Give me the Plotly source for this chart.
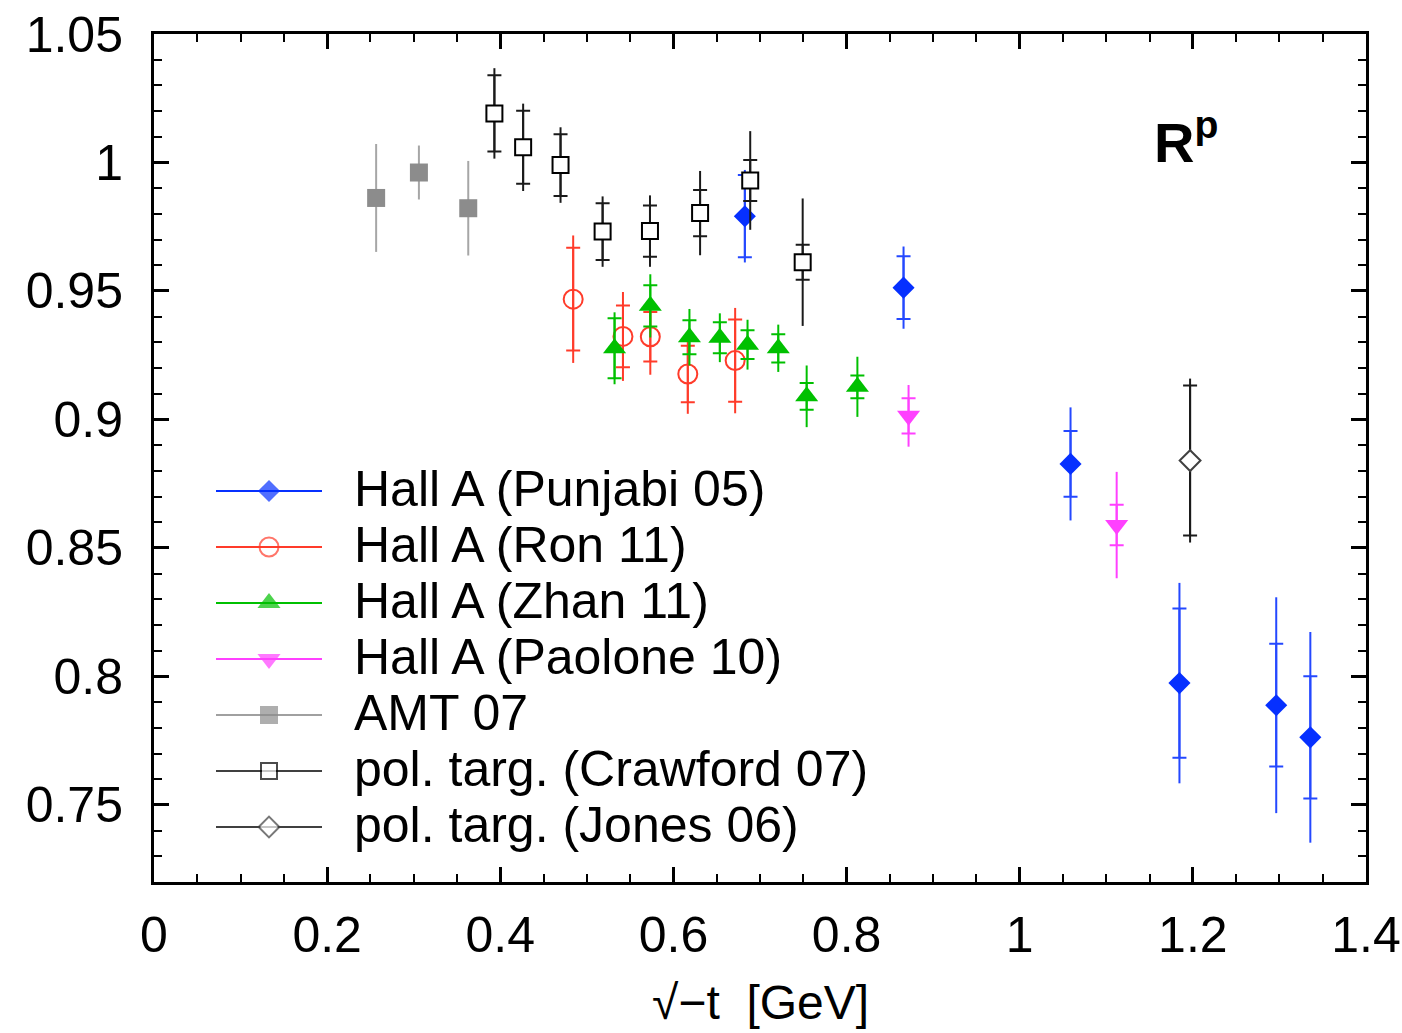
import plotly.graph_objects as go

# ---------------------------------------------------------------------------
# Proton ratio R^p versus sqrt(-t): values, statistical (capped) and total
# (uncapped) uncertainties for every data set
# ---------------------------------------------------------------------------
punjabi_x = [0.6825, 0.8658, 1.0587, 1.1845, 1.2963, 1.3357]
punjabi_y = [0.9791, 0.9513, 0.8827, 0.7974, 0.7888, 0.7763]
punjabi_stat = [0.016, 0.0122, 0.0128, 0.029, 0.0239, 0.0238]
punjabi_tot = [0.018, 0.016, 0.022, 0.039, 0.042, 0.041]

ron_x = [0.4842, 0.5417, 0.5733, 0.6166, 0.6713]
ron_y = [0.9468, 0.9323, 0.9322, 0.9177, 0.9229]
ron_stat = [0.020, 0.012, 0.0096, 0.011, 0.016]
ron_tot = [0.0248, 0.0173, 0.0148, 0.0155, 0.0205]

zhan_x = [0.532, 0.5733, 0.6185, 0.6536, 0.6856, 0.7211, 0.7539, 0.8125]
zhan_y = [0.9277, 0.9442, 0.932, 0.9318, 0.9291, 0.9277, 0.909, 0.9127]
zhan_stat = [0.0117, 0.008, 0.0066, 0.006, 0.0056, 0.0055, 0.0052, 0.0044]
zhan_tot = [0.014, 0.0123, 0.011, 0.0095, 0.0097, 0.0092, 0.012, 0.0117]

paolone_x = [0.8716, 1.112]
paolone_y = [0.9014, 0.8589]
paolone_stat = [0.0069, 0.0079]
paolone_tot = [0.012, 0.0207]

amt_x = [0.2566, 0.306, 0.363]
amt_y = [0.9862, 0.9961, 0.9822]
amt_tot = [0.021, 0.0105, 0.0184]

crawford_x = [0.3932, 0.4264, 0.4696, 0.5182, 0.5729, 0.6308, 0.6887, 0.7493]
crawford_y = [1.0191, 1.0059, 0.999, 0.9731, 0.9733, 0.9803, 0.993, 0.9612]
crawford_stat = [0.0148, 0.0142, 0.012, 0.011, 0.010, 0.009, 0.008, 0.0068]
crawford_tot = [0.0176, 0.017, 0.0147, 0.0137, 0.0139, 0.0164, 0.0192, 0.0248]

jones_x = [1.1968]
jones_y = [0.884]
jones_stat = [0.0292]
jones_tot = [0.0319]

legend_labels = [
    "Hall A (Punjabi 05)",
    "Hall A (Ron 11)",
    "Hall A (Zhan 11)",
    "Hall A (Paolone 10)",
    "AMT 07",
    "pol. targ. (Crawford 07)",
    "pol. targ. (Jones 06)",
]

x_ticks = [0, 0.2, 0.4, 0.6, 0.8, 1.0, 1.2, 1.4]
x_tick_text = ["0", "0.2", "0.4", "0.6", "0.8", "1", "1.2", "1.4"]
y_ticks = [0.75, 0.8, 0.85, 0.9, 0.95, 1.0, 1.05]
y_tick_text = ["0.75", "0.8", "0.85", "0.9", "0.95", "1", "1.05"]

FONT = "Liberation Sans, Arial, Helvetica, sans-serif"
TXT = 50

# frame geometry (pixels)
L, R, T, B = 154, 36, 34, 151
W, H = 1402, 1033
PW, PH = W - L - R, H - T - B

# style of each data set: (marker colour, bar colour, symbol, size, fill, outline width)
styles = [
    ("#0630ff", "#2448ff", "diamond", 17, "#0630ff", 0),
    ("#ff3b2a", "#ff3b2a", "circle-open", 19, "#ff3b2a", 2),
    ("#00c000", "#00c000", "triangle-up", 20, "#00c000", 0),
    ("#ff40ff", "#ff40ff", "triangle-down", 20, "#ff40ff", 0),
    ("#8c8c8c", "#a6a6a6", "square", 18, "#8c8c8c", 0),
    ("#000000", "#1a1a1a", "square", 16, "#ffffff", 2),
    ("#404040", "#1a1a1a", "diamond", 16, "#ffffff", 2),
]

fig = go.Figure()


def add_set(x, y, stat, tot, style):
    mcol, bcol, sym, size, fill, lw = style
    # total uncertainty: plain bar
    fig.add_trace(go.Scatter(
        x=x, y=y, mode="markers",
        marker=dict(size=1, color="rgba(0,0,0,0)"),
        error_y=dict(type="data", array=tot, color=bcol, thickness=2, width=0),
        showlegend=False, hoverinfo="skip"))
    # statistical uncertainty with caps, plus the symbol
    err = dict(type="data", array=stat, color=bcol, thickness=2, width=7) if stat else None
    fig.add_trace(go.Scatter(
        x=x, y=y, mode="markers",
        marker=dict(symbol=sym, size=size, color=fill,
                    line=dict(color=mcol, width=lw)),
        error_y=err, showlegend=False))


add_set(amt_x, amt_y, None, amt_tot, styles[4])
add_set(ron_x, ron_y, ron_stat, ron_tot, styles[1])
add_set(zhan_x, zhan_y, zhan_stat, zhan_tot, styles[2])
add_set(punjabi_x, punjabi_y, punjabi_stat, punjabi_tot, styles[0])
add_set(crawford_x, crawford_y, crawford_stat, crawford_tot, styles[5])
add_set(paolone_x, paolone_y, paolone_stat, paolone_tot, styles[3])
add_set(jones_x, jones_y, jones_stat, jones_tot, styles[6])

# key drawn on a pixel-space overlay
key_x0, key_xm, key_x1, key_text_x = 216, 269, 322, 352
key_row0, key_step = 491, 56
for i, (label, st) in enumerate(zip(legend_labels, styles)):
    mcol, bcol, sym, size, fill, lw = st
    ry = key_row0 + i * key_step
    line_col = "#404040" if i >= 5 else ("#a0a0a0" if i == 4 else mcol)
    fig.add_trace(go.Scatter(
        x=[key_x0, key_xm, key_x1], y=[ry, ry, ry], mode="lines+markers",
        xaxis="x2", yaxis="y2",
        line=dict(color=line_col, width=2),
        marker=dict(symbol=sym, size=[0, size, 0], color=fill,
                    line=dict(color=mcol, width=lw)),
        showlegend=False, hoverinfo="skip"))
    fig.add_annotation(x=key_text_x, y=ry - 2, xref="x2", yref="y2", text=label,
                       showarrow=False, xanchor="left", yanchor="middle",
                       font=dict(family=FONT, size=TXT, color="black"))

fig.add_annotation(x=1152, y=138, xref="x2", yref="y2",
                   text="<b>R<sup>p</sup></b>", showarrow=False,
                   xanchor="left", yanchor="middle",
                   font=dict(family=FONT, size=56, color="black"))

# x-axis title, placed below the tick labels
fig.add_annotation(x=(760 - L) / PW, y=-(1002 - (H - B)) / PH,
                   xref="paper", yref="paper",
                   text="\u221a\u2212t\u00a0\u00a0[GeV]", showarrow=False,
                   xanchor="center", yanchor="middle",
                   font=dict(family=FONT, size=48, color="black"))

axis_common = dict(
    showline=True, linecolor="black", linewidth=3, mirror="ticks",
    ticks="inside", tickcolor="black", tickwidth=3, ticklen=15,
    showgrid=False, zeroline=False, automargin=False,
    tickfont=dict(family=FONT, size=TXT, color="black"),
)

fig.update_layout(
    width=W, height=H,
    margin=dict(l=L, r=R, t=T, b=B),
    plot_bgcolor="white", paper_bgcolor="white",
    showlegend=False,
    xaxis=dict(range=[0, 1.4], tickvals=x_ticks, ticktext=x_tick_text,
               minor=dict(dtick=0.05, tick0=0, ticks="inside", ticklen=8,
                          tickwidth=2, tickcolor="black"),
               ticklabelstandoff=7,
               **axis_common),
    yaxis=dict(range=[0.72, 1.05], tickvals=y_ticks, ticktext=y_tick_text,
               minor=dict(dtick=0.01, tick0=0.72, ticks="inside", ticklen=8,
                          tickwidth=2, tickcolor="black"),
               ticklabelstandoff=18,
               **axis_common),
    xaxis2=dict(overlaying="x", range=[L, W - R], visible=False),
    yaxis2=dict(overlaying="y", range=[H - B, T], visible=False),
)

fig.write_html("out.html")
